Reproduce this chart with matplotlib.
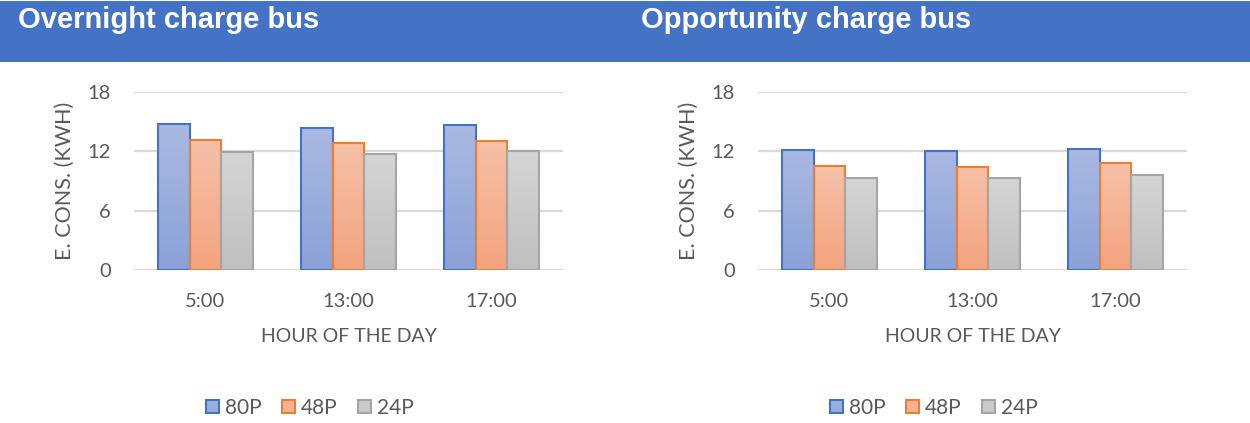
import matplotlib
matplotlib.use("Agg")
import matplotlib.pyplot as plt
import numpy as np
from matplotlib.patches import Rectangle, Patch
from matplotlib.colors import LinearSegmentedColormap

# Data
hours = ["5:00", "13:00", "17:00"]
series_names = ["80P", "48P", "24P"]
overnight_80p = [14.75, 14.40, 14.70]
overnight_48p = [13.13, 12.89, 13.09]
overnight_24p = [11.92, 11.75, 12.02]
opportunity_80p = [12.18, 12.02, 12.25]
opportunity_48p = [10.57, 10.47, 10.80]
opportunity_24p = [9.36, 9.32, 9.66]
y_ticks = [0, 6, 12, 18]
panel_titles = ["Overnight charge bus", "Opportunity charge bus"]

# Styling
W, H = 1250, 423
edge_colors = ["#4472c4", "#ed7d31", "#a5a5a5"]
grad_top = ["#aab9e1", "#f6c1a8", "#d5d5d5"]
grad_bottom = ["#8ba2d8", "#f4a47f", "#c0c0c0"]
legend_fill = ["#9aaedc", "#f5b393", "#cacaca"]
text_gray = "#595959"
grid_gray = "#d9d9d9"
band_blue = "#4472c4"
body_font = ["Lato", "DejaVu Sans"]
title_font = ["Liberation Sans", "DejaVu Sans"]

fig = plt.figure(figsize=(W / 100, H / 100), dpi=100)

# Header band
fig.patches.append(Rectangle((0, 1 - 62 / H), 1, 61 / H, transform=fig.transFigure,
                             facecolor=band_blue, edgecolor="none", zorder=0))
for px, title in zip([18, 641], panel_titles):
    fig.text(px / W, 1 - 28 / H, title, color="white", fontsize=21, fontweight="bold",
             family=title_font, ha="left", va="baseline")


def draw_panel(ax, groups):
    x = np.arange(len(hours))
    width = 0.223
    ax.set_xlim(-0.5, len(hours) - 0.5)
    ax.set_ylim(0, 18)
    for yt in y_ticks:
        ax.axhline(yt, color=grid_gray, lw=1.6, zorder=1)
    for i, vals in enumerate(groups):
        offs = x + (i - 1) * width
        cmap = LinearSegmentedColormap.from_list("g%d" % i, [grad_bottom[i], grad_top[i]])
        grad = np.linspace(0, 1, 128).reshape(-1, 1)
        bars = ax.bar(offs, vals, width, facecolor="none", edgecolor=edge_colors[i],
                      linewidth=1.5, zorder=4)
        for b in bars:
            x0, y0 = b.get_x(), b.get_y()
            im = ax.imshow(grad, cmap=cmap, origin="lower", aspect="auto",
                           extent=(x0, x0 + b.get_width(), y0, y0 + b.get_height()),
                           zorder=3, interpolation="bilinear")
            clip = Rectangle((x0, y0), b.get_width(), b.get_height(), transform=ax.transData)
            im.set_clip_path(clip)
    ax.set_xlim(-0.5, len(hours) - 0.5)
    ax.set_ylim(0, 18)
    ax.set_xticks(x)
    ax.set_xticklabels(hours)
    ax.set_yticks(y_ticks)
    for s in ax.spines.values():
        s.set_visible(False)
    ax.tick_params(axis="both", length=0, labelsize=14.5, labelcolor=text_gray)
    ax.tick_params(axis="y", pad=16.5)
    ax.tick_params(axis="x", pad=16)
    for lab in ax.get_xticklabels() + ax.get_yticklabels():
        lab.set_family(body_font)
    ax.set_xlabel("HOUR OF THE DAY", fontsize=14, color=text_gray, family=body_font, labelpad=13)
    ax.set_ylabel("E. CONS. (KWH)", fontsize=15.5, color=text_gray, family=body_font, labelpad=9)


ax_h = 178.3 / H
ax_b = 1 - 270.3 / H
ax1 = fig.add_axes([134 / W, ax_b, 429 / W, ax_h])
ax2 = fig.add_axes([758 / W, ax_b, 429 / W, ax_h])
draw_panel(ax1, [overnight_80p, overnight_48p, overnight_24p])
draw_panel(ax2, [opportunity_80p, opportunity_48p, opportunity_24p])

handles = [Patch(facecolor=legend_fill[i], edgecolor=edge_colors[i], linewidth=1.5)
           for i in range(3)]
for cx in [310, 934]:
    fig.legend(handles, series_names, loc="center", bbox_to_anchor=(cx / W, 1 - 408 / H),
               ncol=3, frameon=False, handlelength=0.6, handleheight=0.6,
               handletextpad=0.3, columnspacing=1.0,
               prop={"family": body_font, "size": 15}, labelcolor=text_gray)

fig.savefig("out.png", dpi=100, facecolor="white")
